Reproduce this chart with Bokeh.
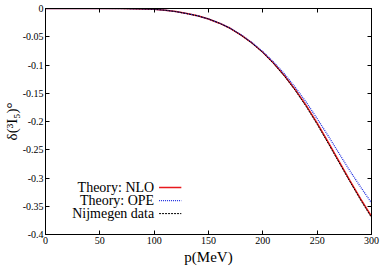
from bokeh.plotting import figure
from bokeh.models import (LinearAxis, FixedTicker, CustomJSTickFormatter, Label,
                          Arrow, Range1d)
from bokeh.embed import file_html
from bokeh.resources import INLINE

# ---- data ----
p_mev = [0, 10, 20, 30, 40, 50, 60, 70, 80, 90, 100, 110, 120, 130, 140, 150,
         160, 170, 180, 190, 200, 210, 220, 230, 240, 250, 260, 270, 280, 290, 300]
delta_nlo = [0, 0, 0, 0, 0, 0, -0.0001, -0.0002, -0.0005, -0.0009, -0.0015,
             -0.0030, -0.0055, -0.0090, -0.0130, -0.0185, -0.0260, -0.0350,
             -0.0470, -0.0610, -0.0775, -0.0970, -0.1190, -0.1440, -0.1720,
             -0.2030, -0.2360, -0.2700, -0.3040, -0.3370, -0.3680]
delta_ope = [0, 0, 0, 0, 0, 0, -0.0001, -0.0002, -0.0005, -0.0009, -0.0015,
             -0.0030, -0.0055, -0.0090, -0.0130, -0.0185, -0.0258, -0.0347,
             -0.0465, -0.0603, -0.0765, -0.0950, -0.1160, -0.1400, -0.1660,
             -0.1950, -0.2250, -0.2560, -0.2870, -0.3160, -0.3440]
delta_nij = [0, 0, 0, 0, 0, 0, -0.0001, -0.0002, -0.0005, -0.0009, -0.0015,
             -0.0030, -0.0055, -0.0090, -0.0130, -0.0185, -0.0260, -0.0352,
             -0.0473, -0.0614, -0.0780, -0.0977, -0.1200, -0.1455, -0.1738,
             -0.2050, -0.2382, -0.2722, -0.3060, -0.3390, -0.3700]
series_names = ["Theory: NLO", "Theory: OPE", "Nijmegen data"]
x_ticks = [0, 50, 100, 150, 200, 250, 300]
y_ticks = [0, -0.05, -0.1, -0.15, -0.2, -0.25, -0.3, -0.35, -0.4]
x_title = "p(MeV)"
y_title = "δ(³I₅)°"

SERIF = "Liberation Serif"

p = figure(width=382, height=267, output_backend="svg", toolbar_location=None,
           x_range=Range1d(0, 300), y_range=Range1d(-0.4, 0),
           min_border_left=44, min_border_right=11, min_border_top=8,
           min_border_bottom=33, x_axis_location=None, y_axis_location=None)
p.background_fill_color = "white"
p.border_fill_color = "white"
p.outline_line_color = "black"
p.outline_line_width = 1
p.xgrid.visible = False
p.ygrid.visible = False

fmt = CustomJSTickFormatter(code="return Number(tick.toFixed(2)).toString();")
blank = CustomJSTickFormatter(code="return '';")

def make_axis(ticks, formatter):
    ax = LinearAxis(ticker=FixedTicker(ticks=ticks), formatter=formatter)
    ax.major_tick_in = 4
    ax.major_tick_out = 0
    ax.minor_tick_line_color = None
    ax.axis_line_color = "black"
    ax.major_tick_line_color = "black"
    ax.major_label_text_font = SERIF
    ax.major_label_text_font_size = "10px"
    ax.major_label_text_color = "black"
    ax.major_label_standoff = 2
    ax.axis_label_text_font = SERIF
    ax.axis_label_text_font_size = "15px"
    ax.axis_label_text_font_style = "normal"
    ax.axis_label_text_color = "black"
    return ax

left_ax = make_axis(y_ticks, fmt)
left_ax.axis_label = y_title
left_ax.axis_label_standoff = 0
bottom_ax = make_axis(x_ticks, fmt)
bottom_ax.axis_label = x_title
bottom_ax.axis_label_standoff = 2
p.add_layout(left_ax, "left")
p.add_layout(bottom_ax, "below")
p.add_layout(make_axis(y_ticks, blank), "right")
p.add_layout(make_axis(x_ticks, blank), "above")

# curves
p.line(p_mev, delta_nlo, line_color="#e8191d", line_width=1.5)
p.line(p_mev, delta_ope, line_color="#2030e0", line_width=1.3, line_dash="1 1")
p.line(p_mev, delta_nij, line_color="black", line_width=1.0, line_dash="2 1")

# gnuplot-style key: right-aligned text, sample to the right
styles = [("#e8191d", 1.5, "solid"), ("#2030e0", 1.3, "1 1"), ("black", 1.0, "2 1")]
key_y = [-0.317, -0.340, -0.363]
for name, (col, lw, dash), ky in zip(series_names, styles, key_y):
    p.add_layout(Label(x=100, y=ky, text=name, text_font=SERIF,
                       text_font_size="14px", text_align="right",
                       text_baseline="middle", text_color="black"))
    p.add_layout(Arrow(end=None, x_start=104.5, y_start=ky, x_end=125, y_end=ky,
                       line_color=col, line_width=lw, line_dash=dash))

open("out.html", "w").write(file_html(p, INLINE))
